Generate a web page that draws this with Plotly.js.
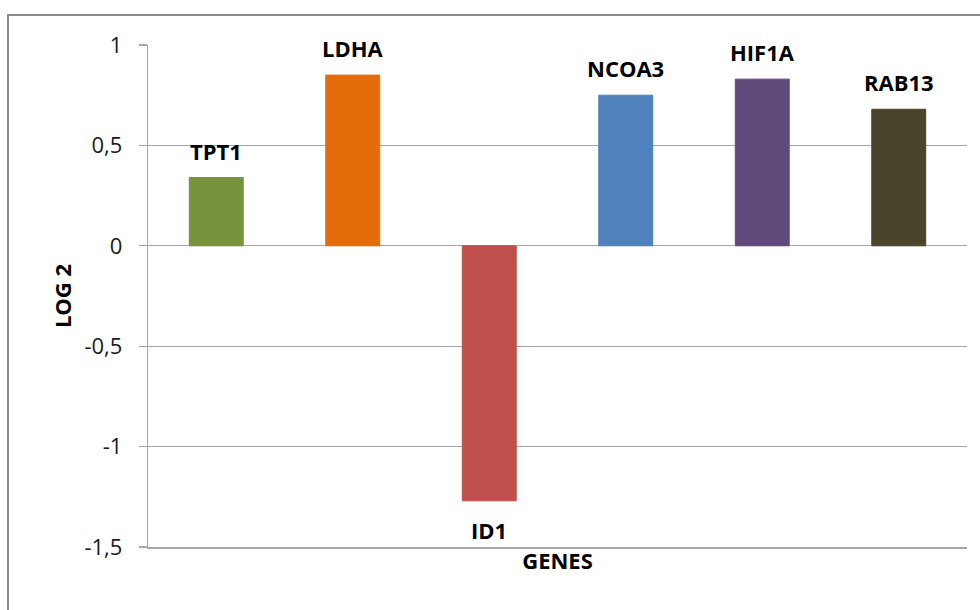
<!DOCTYPE html>
<html>
<head>
<meta charset="utf-8">
<script src="https://cdn.plot.ly/plotly-3.0.1.min.js"></script>
<style>
  html, body { margin: 0; padding: 0; background: #ffffff; }
  #wrap { position: relative; width: 980px; height: 610px; overflow: hidden; }
  #frame {
    position: absolute; left: 7px; top: 14px; width: 990px; height: 620px;
    border-left: 2px solid #8c8c8c; border-top: 2px solid #8c8c8c;
  }
  #chart { position: absolute; left: 0; top: 0; width: 980px; height: 610px; }
</style>
</head>
<body>
<div id="wrap">
  <div id="frame"></div>
  <div id="chart"></div>
</div>
<script>
// Gene expression changes (log2 fold change)
const genes = ['TPT1', 'LDHA', 'ID1', 'NCOA3', 'HIF1A', 'RAB13'];
const log2Values = [0.34, 0.85, -1.27, 0.75, 0.83, 0.68];
const barColors = ['#77933C', '#E46C0A', '#C0504D', '#4F81BD', '#604A7B', '#4A452A'];

// Y axis ticks (decimal comma, plain hyphen minus)
const yTickVals = [-1.5, -1, -0.5, 0, 0.5, 1];
const yTickText = ['-1,5', '-1', '-0,5', '0', '0,5', '1'];

const FONT = 'Open Sans, Liberation Sans, sans-serif';

const trace = {
  type: 'bar',
  x: genes,
  y: log2Values,
  marker: { color: barColors, line: { color: barColors, width: 1 } },
  hoverinfo: 'x+y',
  showlegend: false
};

// Gene names above positive bars, below negative ones
const labels = genes.map((g, i) => ({
  x: g,
  y: log2Values[i],
  xref: 'x',
  yref: 'y',
  text: '<b>' + g + '</b>',
  showarrow: false,
  yanchor: 'middle',
  yshift: log2Values[i] >= 0 ? 27 : -29,
  font: { family: FONT, size: 22, color: '#000000' }
}));

const layout = {
  width: 980,
  height: 610,
  margin: { l: 148, r: 13, t: 45, b: 63 },
  paper_bgcolor: 'rgba(0,0,0,0)',
  plot_bgcolor: 'rgba(0,0,0,0)',
  bargap: 0.605,
  font: { family: FONT, color: '#000000' },
  xaxis: {
    type: 'category',
    showticklabels: false,
    ticks: '',
    showgrid: false,
    showline: true,
    linecolor: '#a6a6a6',
    linewidth: 1.5,
    zeroline: false,
    fixedrange: true,
    title: {
      text: '<b>GENES</b>',
      standoff: 6,
      font: { family: FONT, size: 22, color: '#000000' }
    }
  },
  yaxis: {
    range: [-1.5, 1],
    tickvals: yTickVals,
    ticktext: yTickText,
    ticks: 'outside',
    ticklen: 8,
    tickwidth: 1.2,
    tickcolor: '#a6a6a6',
    ticklabelstandoff: 12,
    tickfont: { family: FONT, size: 22, color: '#1a1a1a' },
    showgrid: true,
    gridcolor: '#a6a6a6',
    gridwidth: 1.2,
    showline: true,
    linecolor: '#a6a6a6',
    linewidth: 1.2,
    zeroline: false,
    fixedrange: true,
    title: {
      text: '<b>LOG 2</b>',
      standoff: 6,
      font: { family: FONT, size: 22, color: '#000000' }
    }
  },
  annotations: labels
};

Plotly.newPlot('chart', [trace], layout, { displayModeBar: false, staticPlot: true });
</script>
</body>
</html>
